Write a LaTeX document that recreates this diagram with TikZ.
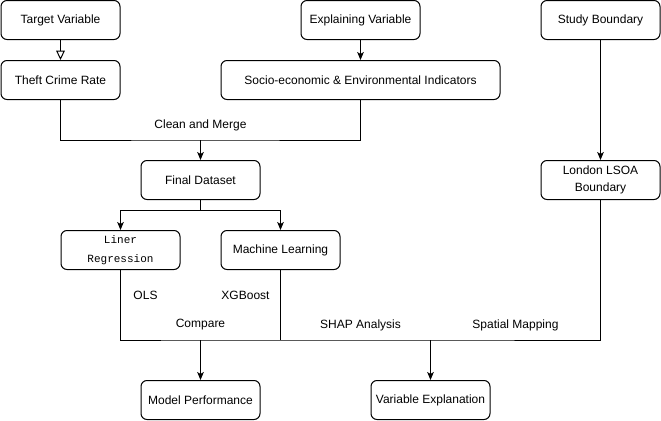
\documentclass[tikz,border=0pt]{standalone}
\usepackage{fontspec}
\setmainfont{Liberation Sans}
\newfontfamily\codefont{Liberation Mono}
\usetikzlibrary{arrows.meta}
\begin{document}
\begin{tikzpicture}[x=0.75pt,y=-0.75pt,
  box/.style={draw, line width=0.75pt, rounded corners=4.5pt, minimum width=89.25pt, minimum height=29.25pt, inner sep=0pt, align=center, font=\fontsize{9}{13}\selectfont},
  lbl/.style={inner sep=0pt, font=\fontsize{9}{11}\selectfont},
  conn/.style={line width=0.75pt},
  arr/.style={conn, -{Stealth[length=6pt,width=5pt,inset=1.5pt]}},
  openarr/.style={conn, -{Triangle[open,length=7pt,width=6.5pt]}}]
\useasboundingbox (0,0) rectangle (661,421);
% nodes
\node[box] (target) at (60.5,20) {Target Variable};
\node[box] (theft) at (60.5,80) {Theft Crime Rate};
\node[box] (expl) at (360.5,20) {Explaining Variable};
\node[box, minimum width=209.25pt] (socio) at (360.5,80) {Socio-economic \& Environmental Indicators};
\node[box] (study) at (600.5,20) {Study Boundary};
\node[box] (london) at (600.5,180) {London LSOA\\Boundary};
\node[box] (final) at (200.5,180) {Final Dataset};
\node[box, font=\fontsize{8.25}{14.25}\selectfont\codefont] (liner) at (120.5,250) {Liner\\Regression};
\node[box] (ml) at (280.5,250) {Machine Learning};
\node[box] (perf) at (200.5,400) {Model Performance};
\node[box] (varexp) at (430.5,400) {Variable Explanation};
% coordinates
\coordinate (cm) at (200.5,140);
\coordinate (fs) at (200.5,210);
\coordinate (b1) at (200.5,340);
\coordinate (b2) at (430.5,340);
% connectors
\draw[openarr] (target) -- (theft);
\draw[arr] (expl) -- (socio);
\draw[arr] (study) -- (london);
\draw[conn] (theft.south) |- (cm) -| (socio.south);
\draw[arr] (cm) -- (final.north);
\draw[arr] (final.south) -- (fs) -| (liner.north);
\draw[arr] (fs) -| (ml.north);
\draw[conn] (liner.south) |- (b1) -- (b2) -| (london.south);
\draw[conn] (ml.south) -- (ml.south |- b1);
\draw[arr] (b1) -- (perf.north);
\draw[arr] (b2) -- (varexp.north);
% labels
\node[lbl] (lclean) at (200.5,125) {Clean and Merge};
\node[lbl] (lols) at (145.5,295) {OLS};
\node[lbl] (lxgb) at (245.5,295) {XGBoost};
\node[lbl] (lcomp) at (200.5,325) {Compare};
\node[lbl] (lshap) at (360.5,325) {SHAP Analysis};
\node[lbl] (lspat) at (515.5,325) {Spatial Mapping};
\end{tikzpicture}
\end{document}
